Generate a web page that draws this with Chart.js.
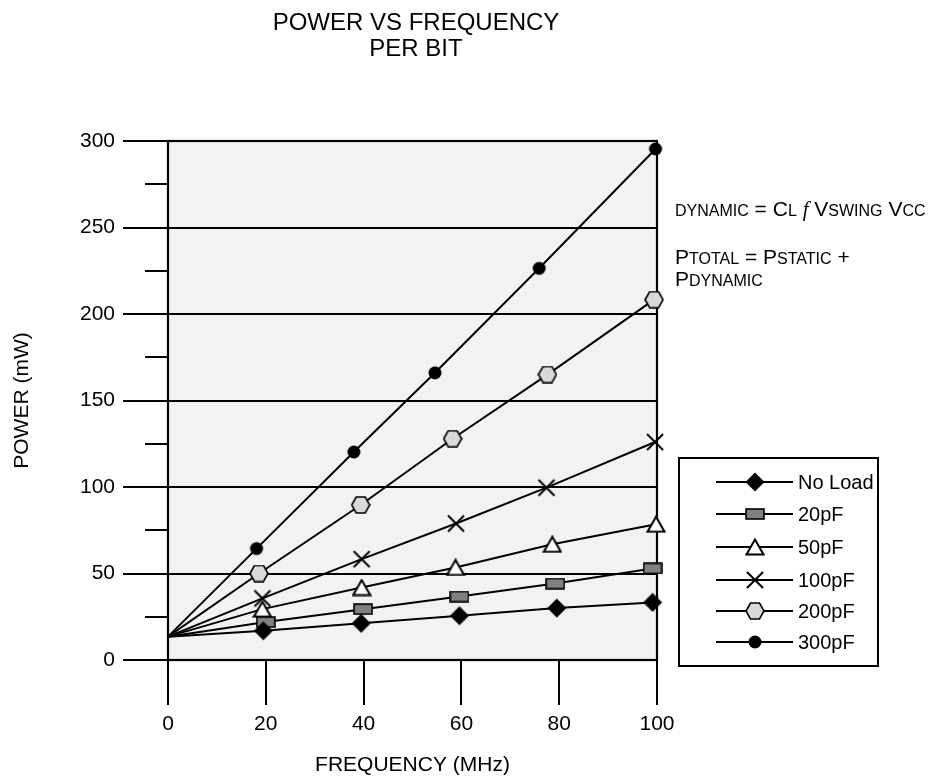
<!DOCTYPE html>
<html>
<head>
<meta charset="utf-8">
<title>Power vs Frequency per bit</title>
<script src="https://cdn.jsdelivr.net/npm/chart.js@4.4.1/dist/chart.umd.min.js"></script>
<style>
  body { margin: 0; background: #fff; }
  .wrap { position: relative; width: 946px; height: 778px; font-family: "Liberation Sans", Arial, sans-serif; color: #000; }
  canvas { position: absolute; left: 0; top: 0; }
  .title { position: absolute; left: 216px; width: 400px; top: 9px; text-align: center; font-size: 24px; line-height: 26px; }
  .note { position: absolute; left: 675px; font-size: 21px; line-height: 24px; white-space: nowrap; }
  .note .s { font-size: 16px; }
  .note i { font-family: "Liberation Serif", serif; }
</style>
</head>
<body>
<div class="wrap">
  <canvas id="chart" width="946" height="778"></canvas>
  <div class="title">POWER VS FREQUENCY<br>PER BIT</div>
  <div class="note" style="top:197px"><span class="s">DYNAMIC</span> = C<span class="s">L</span> <i>f</i> V<span class="s">SWING</span> V<span class="s">CC</span></div>
  <div class="note" style="top:245px">P<span class="s">TOTAL</span> = P<span class="s">STATIC</span> +</div>
  <div class="note" style="top:267px">P<span class="s">DYNAMIC</span></div>
</div>
<script>
// axis ticks
const ticksX = [0, 20, 40, 60, 80, 100];
const ticksY = [0, 50, 100, 150, 200, 250, 300];
const minorY = [25, 75, 125, 175, 225, 275];

// series, first point is the common start at 0 MHz
const seriesNames = ["No Load", "20pF", "50pF", "100pF", "200pF", "300pF"];

const freqNoLoad = [0, 19.5, 39.5, 59.6, 79.5, 99.1];
const powerNoLoad = [13.5, 16.9, 21.2, 25.6, 30.0, 33.3];

const freq20pF = [0, 20.0, 39.9, 59.6, 79.2, 99.1];
const power20pF = [13.5, 21.9, 29.4, 36.7, 44.2, 52.9];

const freq50pF = [0, 19.3, 39.6, 58.8, 78.6, 99.8];
const power50pF = [13.5, 29.4, 41.9, 53.5, 66.9, 78.5];

const freq100pF = [0, 19.3, 39.6, 58.9, 77.4, 99.6];
const power100pF = [13.5, 35.6, 58.3, 78.9, 99.6, 126];

const freq200pF = [0, 18.6, 39.4, 58.2, 77.6, 99.4];
const power200pF = [13.5, 50.0, 89.6, 127.9, 165, 208.3];

const freq300pF = [0, 18.1, 38.0, 54.6, 75.9, 99.7];
const power300pF = [13.5, 64.4, 120.2, 166, 226.4, 295.4];

// marker images
function makeMarker(w, h, draw) {
  const c = document.createElement("canvas");
  c.width = w;
  c.height = h;
  const g = c.getContext("2d");
  g.strokeStyle = "#000";
  g.lineWidth = 1.6;
  draw(g);
  return c;
}

const markers = [
  // diamond
  makeMarker(20, 20, function (g) {
    g.beginPath();
    g.moveTo(10, 0.5); g.lineTo(19.5, 10); g.lineTo(10, 19.5); g.lineTo(0.5, 10);
    g.closePath();
    g.fillStyle = "#000";
    g.fill();
  }),
  // grey bar
  makeMarker(20, 12, function (g) {
    g.fillStyle = "#808080";
    g.fillRect(1, 1, 18, 10);
    g.strokeRect(1, 1, 18, 10);
  }),
  // open triangle
  makeMarker(20, 18, function (g) {
    g.beginPath();
    g.moveTo(10, 1.5); g.lineTo(18.5, 16.5); g.lineTo(1.5, 16.5);
    g.closePath();
    g.fillStyle = "#fff";
    g.fill();
    g.lineWidth = 2;
    g.stroke();
  }),
  // x
  makeMarker(20, 20, function (g) {
    g.lineWidth = 2;
    g.beginPath();
    g.moveTo(2, 2); g.lineTo(18, 18);
    g.moveTo(18, 2); g.lineTo(2, 18);
    g.stroke();
  }),
  // hexagon
  makeMarker(20, 18, function (g) {
    g.beginPath();
    g.moveTo(1, 9); g.lineTo(5.5, 1); g.lineTo(14.5, 1);
    g.lineTo(19, 9); g.lineTo(14.5, 17); g.lineTo(5.5, 17);
    g.closePath();
    g.fillStyle = "#d9d9d9";
    g.fill();
    g.stroke();
  }),
  // dot
  makeMarker(16, 16, function (g) {
    g.beginPath();
    g.arc(8, 8, 6.5, 0, Math.PI * 2);
    g.fillStyle = "#000";
    g.fill();
  }),
];

function toPoints(xs, ys) {
  return xs.map(function (x, i) { return { x: x, y: ys[i] }; });
}

const seriesData = [
  toPoints(freqNoLoad, powerNoLoad),
  toPoints(freq20pF, power20pF),
  toPoints(freq50pF, power50pF),
  toPoints(freq100pF, power100pF),
  toPoints(freq200pF, power200pF),
  toPoints(freq300pF, power300pF),
];

const datasets = seriesNames.map(function (name, i) {
  return {
    label: name,
    data: seriesData[i],
    showLine: true,
    borderColor: "#000",
    borderWidth: 2,
    pointStyle: markers[i],
    pointRadius: function (ctx) { return ctx.dataIndex === 0 ? 0 : 8; },
    clip: false,
  };
});

// plot background, frame, minor ticks and the boxed legend
const chartDecor = {
  id: "chartDecor",
  beforeDraw(chart) {
    const a = chart.chartArea;
    const ctx = chart.ctx;
    ctx.save();
    ctx.fillStyle = "#f2f2f2";
    ctx.fillRect(a.left, a.top, a.right - a.left, a.bottom - a.top);
    ctx.restore();
  },
  beforeDatasetsDraw(chart) {
    const a = chart.chartArea;
    const ctx = chart.ctx;
    ctx.save();
    ctx.strokeStyle = "#000";
    ctx.lineWidth = 2.2;
    ctx.strokeRect(a.left, a.top, a.right - a.left, a.bottom - a.top);
    // minor ticks on the y axis
    ctx.lineWidth = 2;
    const y = chart.scales.y;
    minorY.forEach(function (v) {
      const py = Math.round(y.getPixelForValue(v));
      ctx.beginPath();
      ctx.moveTo(a.left - 23, py);
      ctx.lineTo(a.left, py);
      ctx.stroke();
    });
    ctx.restore();
  },
  afterDraw(chart) {
    const ctx = chart.ctx;
    const rows = [482, 514, 547, 580, 611, 642];
    ctx.save();
    ctx.strokeStyle = "#000";
    ctx.lineWidth = 2;
    ctx.strokeRect(679, 458, 199, 208);
    ctx.font = '20px "Liberation Sans", Arial, sans-serif';
    ctx.fillStyle = "#000";
    ctx.textBaseline = "middle";
    seriesNames.forEach(function (name, i) {
      const ry = rows[i];
      ctx.lineWidth = 2;
      ctx.beginPath();
      ctx.moveTo(716, ry);
      ctx.lineTo(793, ry);
      ctx.stroke();
      const m = markers[i];
      ctx.drawImage(m, 755 - m.width / 2, ry - m.height / 2);
      ctx.fillText(name, 798, ry + 1);
    });
    ctx.restore();
  },
};

Chart.defaults.font.family = '"Liberation Sans", Arial, sans-serif';
Chart.defaults.color = "#000";

new Chart(document.getElementById("chart"), {
  type: "scatter",
  data: { datasets: datasets },
  plugins: [chartDecor],
  options: {
    responsive: false,
    animation: false,
    layout: { padding: { top: 141, right: 289, left: 0, bottom: 0 } },
    plugins: {
      legend: { display: false },
      title: { display: false },
      tooltip: { enabled: false },
    },
    scales: {
      x: {
        type: "linear",
        min: 0,
        max: 100,
        afterBuildTicks: function (scale) {
          scale.ticks = ticksX.map(function (v) { return { value: v }; });
        },
        afterFit: function (scale) { scale.height = 118; },
        grid: {
          drawOnChartArea: false,
          color: "#000",
          lineWidth: 2,
          tickLength: 45,
        },
        border: { display: false },
        ticks: { font: { size: 21 }, padding: 7, maxRotation: 0 },
        title: {
          display: true,
          text: "FREQUENCY (MHz)",
          font: { size: 21 },
          padding: { top: 0, bottom: 0 },
        },
      },
      y: {
        type: "linear",
        min: 0,
        max: 300,
        afterBuildTicks: function (scale) {
          scale.ticks = ticksY.map(function (v) { return { value: v }; });
        },
        afterFit: function (scale) { scale.width = 168; },
        grid: {
          color: "#000",
          lineWidth: 2,
          tickLength: 45,
        },
        border: { display: false },
        ticks: { font: { size: 21 }, padding: 8 },
        title: {
          display: true,
          text: "POWER (mW)",
          font: { size: 21 },
          padding: { top: 10, bottom: 0 },
        },
      },
    },
  },
});
</script>
</body>
</html>
